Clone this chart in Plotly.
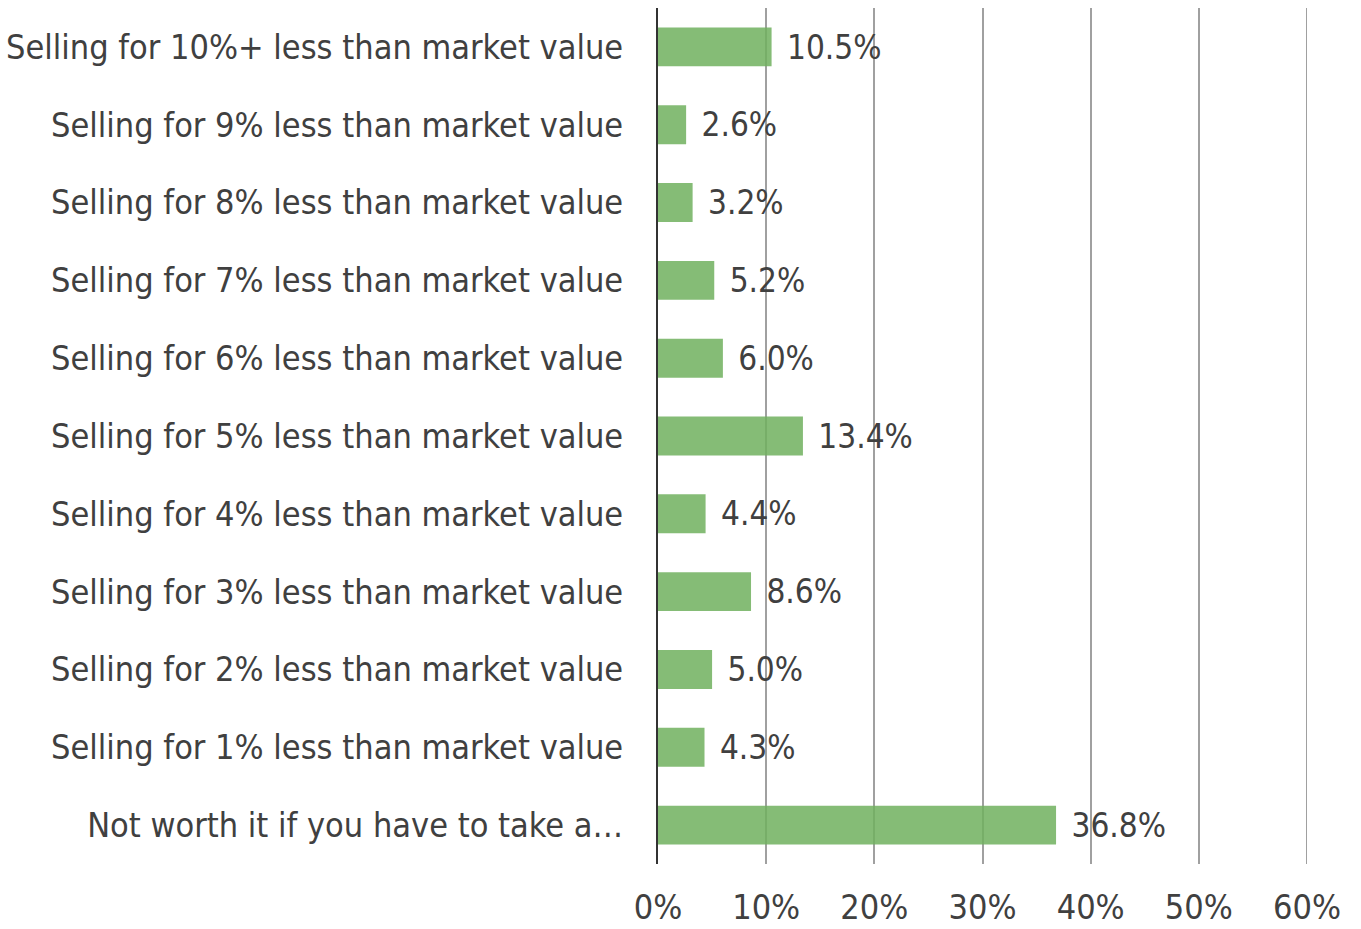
import plotly.graph_objects as go

categories = [
    "Selling for 10%+ less than market value",
    "Selling for 9% less than market value",
    "Selling for 8% less than market value",
    "Selling for 7% less than market value",
    "Selling for 6% less than market value",
    "Selling for 5% less than market value",
    "Selling for 4% less than market value",
    "Selling for 3% less than market value",
    "Selling for 2% less than market value",
    "Selling for 1% less than market value",
    "Not worth it if you have to take a…",
]
values = [10.5, 2.6, 3.2, 5.2, 6.0, 13.4, 4.4, 8.6, 5.0, 4.3, 36.8]
x_ticks = [0, 10, 20, 30, 40, 50, 60]

FONT = "DejaVu Sans Condensed, Liberation Sans, sans-serif"
TEXT_COLOR = "#404040"
GRID = "#a0a0a0"

fig = go.Figure()
fig.add_trace(go.Bar(
    x=values, y=categories, orientation="h",
    marker=dict(color="#70b05e", opacity=0.85, line_width=0),
    text=[f"\u00a0\u200a{v:.1f}%" for v in values],
    textposition="outside", cliponaxis=False,
    textfont=dict(family=FONT, size=34, color=TEXT_COLOR),
    hoverinfo="skip",
))

# plotly skips the gridline sitting on the right edge, so draw it explicitly
fig.add_vline(x=x_ticks[-1], line=dict(color=GRID, width=2), layer="below")

fig.update_layout(
    width=1361, height=929,
    margin=dict(l=658, r=54, t=8, b=65),
    plot_bgcolor="white", paper_bgcolor="white",
    bargap=0.5, showlegend=False,
    font=dict(family=FONT, size=34, color=TEXT_COLOR),
    xaxis=dict(
        range=[0, 60], tickvals=x_ticks, ticktext=[f"{t}%" for t in x_ticks],
        showgrid=True, gridcolor=GRID, gridwidth=2,
        zeroline=False, showline=False, ticks="", ticklabelstandoff=20,
        automargin=False,
    ),
    yaxis=dict(
        autorange="reversed", showgrid=False, zeroline=False,
        showline=True, linecolor="#333333", linewidth=2,
        ticks="", ticklabelstandoff=26, automargin=False,
    ),
)

# page body has a default 8px margin; drop it so the figure fills the window
fig.write_html(
    "out.html",
    config={"displayModeBar": False},
    post_script="document.body.style.margin='0';",
)
